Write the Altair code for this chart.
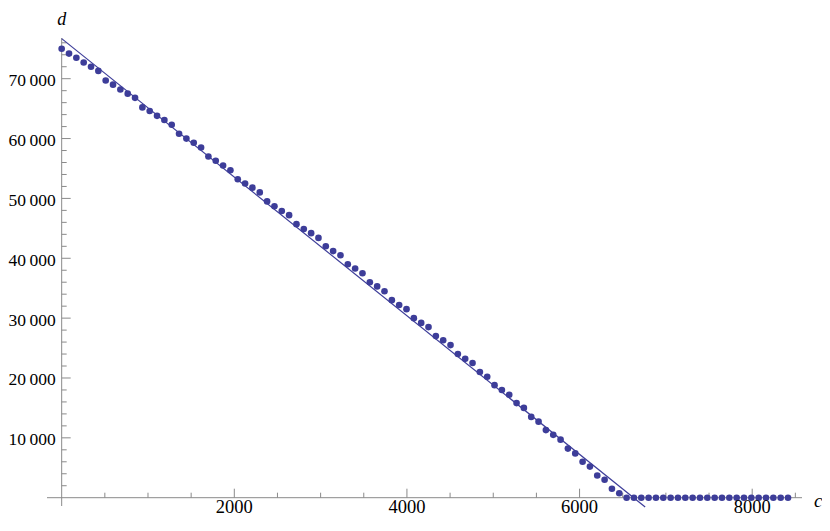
import altair as alt
import pandas as pd

# ---- data ----
c_vals = [0, 85, 170, 255, 340, 425, 510, 595, 680, 765,
          850, 935, 1020, 1105, 1190, 1275, 1360, 1445, 1530, 1615,
          1700, 1785, 1870, 1955, 2040, 2125, 2210, 2295, 2380, 2465,
          2550, 2635, 2720, 2805, 2890, 2975, 3060, 3145, 3230, 3315,
          3400, 3485, 3570, 3655, 3740, 3825, 3910, 3995, 4080, 4165,
          4250, 4335, 4420, 4505, 4590, 4675, 4760, 4845, 4930, 5015,
          5100, 5185, 5270, 5355, 5440, 5525, 5610, 5695, 5780, 5865,
          5950, 6035, 6120, 6205, 6290, 6375, 6460, 6545, 6630, 6715,
          6800, 6885, 6970, 7055, 7140, 7225, 7310, 7395, 7480, 7565,
          7650, 7735, 7820, 7905, 7990, 8075, 8160, 8245, 8330, 8415]
d_vals = [75000, 74200, 73500, 72700, 72000, 71300, 69700, 69000, 68200, 67500,
          66800, 65200, 64600, 63800, 63100, 62300, 60800, 60000, 59300, 58500,
          57000, 56300, 55500, 54700, 53200, 52500, 51800, 51000, 49500, 48700,
          47900, 47200, 45700, 44900, 44200, 43400, 42000, 41200, 40500, 39000,
          38300, 37500, 36000, 35300, 34500, 33000, 32200, 31500, 30000, 29200,
          28500, 27000, 26300, 25500, 24000, 23200, 22500, 21000, 20200, 18800,
          18000, 17200, 15800, 15000, 13500, 12700, 11300, 10500, 9700, 8200,
          7400, 6000, 5200, 3700, 3000, 1500, 750, 0, 0, 0,
          0, 0, 0, 0, 0, 0, 0, 0, 0, 0,
          0, 0, 0, 0, 0, 0, 0, 0, 0, 0]

fit_c = [0, 6760]
fit_d = [76700, -1550]

x_major = [2000, 4000, 6000, 8000]
x_major_labels = ["2000", "4000", "6000", "8000"]
x_minor = [500, 1000, 1500, 2500, 3000, 3500, 4500, 5000, 5500, 6500, 7000, 7500, 8500]
y_major = [10000, 20000, 30000, 40000, 50000, 60000, 70000]
y_major_labels = ["10\u2009000", "20\u2009000", "30\u2009000", "40\u2009000",
                  "50\u2009000", "60\u2009000", "70\u2009000"]
y_minor = [2000, 4000, 6000, 8000, 12000, 14000, 16000, 18000, 22000, 24000, 26000, 28000,
           32000, 34000, 36000, 38000, 42000, 44000, 46000, 48000, 52000, 54000, 56000, 58000,
           62000, 64000, 66000, 68000, 72000, 74000, 76000]

X_DOM = [-170, 8577]
Y_DOM = [-1387, 76800]
W, H = 755, 468
BLUE = "#3d3d99"
AXC = "#8a8a8a"
FONT = "Liberation Serif"

xs = alt.Scale(domain=X_DOM, nice=False, zero=False)
ys = alt.Scale(domain=Y_DOM, nice=False, zero=False)

# pixel lengths converted to data units via the plot scale
ux = (X_DOM[1] - X_DOM[0]) / W
uy = (Y_DOM[1] - Y_DOM[0]) / H

axes_df = pd.DataFrame({"x0": [X_DOM[0], 0], "x1": [X_DOM[1], 0],
                        "y0": [0, Y_DOM[0]], "y1": [0, Y_DOM[1]]})
xt_df = pd.DataFrame({"x": x_major + x_minor,
                      "y0": [0] * (len(x_major) + len(x_minor)),
                      "y1": [9 * uy] * len(x_major) + [5 * uy] * len(x_minor)})
yt_df = pd.DataFrame({"y": y_major + y_minor,
                      "x0": [0] * (len(y_major) + len(y_minor)),
                      "x1": [9 * ux] * len(y_major) + [5 * ux] * len(y_minor)})
pts_df = pd.DataFrame({"c": c_vals, "d": d_vals})
fit_df = pd.DataFrame({"c": fit_c, "d": fit_d})
xl_df = pd.DataFrame({"x": x_major, "y": [0] * len(x_major), "t": x_major_labels})
yl_df = pd.DataFrame({"y": y_major, "x": [0] * len(y_major), "t": y_major_labels})
d_df = pd.DataFrame({"x": [0], "y": [Y_DOM[1]], "t": ["d"]})
c_df = pd.DataFrame({"x": [X_DOM[1]], "y": [0], "t": ["c"]})

axes = alt.Chart(axes_df).mark_rule(color=AXC, strokeWidth=1).encode(
    x=alt.X("x0:Q", scale=xs, axis=None), x2="x1:Q",
    y=alt.Y("y0:Q", scale=ys, axis=None), y2="y1:Q")
xticks = alt.Chart(xt_df).mark_rule(color=AXC, strokeWidth=1).encode(
    x=alt.X("x:Q", scale=xs, axis=None),
    y=alt.Y("y0:Q", scale=ys, axis=None), y2="y1:Q")
yticks = alt.Chart(yt_df).mark_rule(color=AXC, strokeWidth=1).encode(
    y=alt.Y("y:Q", scale=ys, axis=None),
    x=alt.X("x0:Q", scale=xs, axis=None), x2="x1:Q")
fit = alt.Chart(fit_df).mark_line(color=BLUE, strokeWidth=1.2).encode(
    x=alt.X("c:Q", scale=xs, axis=None), y=alt.Y("d:Q", scale=ys, axis=None))
pts = alt.Chart(pts_df).mark_circle(color=BLUE, size=44, opacity=1).encode(
    x=alt.X("c:Q", scale=xs, axis=None), y=alt.Y("d:Q", scale=ys, axis=None))
xlabels = alt.Chart(xl_df).mark_text(font=FONT, fontSize=18.5, color="black",
                                     align="center", baseline="alphabetic", dy=15.5).encode(
    x=alt.X("x:Q", scale=xs, axis=None), y=alt.Y("y:Q", scale=ys, axis=None), text="t:N")
ylabels = alt.Chart(yl_df).mark_text(font=FONT, fontSize=17.5, color="black",
                                     align="right", baseline="alphabetic", dx=-6, dy=7.5).encode(
    y=alt.Y("y:Q", scale=ys, axis=None), x=alt.X("x:Q", scale=xs, axis=None), text="t:N")
dlab = alt.Chart(d_df).mark_text(
    font=FONT, fontSize=18, fontStyle="italic", color="black",
    align="center", baseline="alphabetic", dy=-13.5).encode(
    x=alt.X("x:Q", scale=xs, axis=None), y=alt.Y("y:Q", scale=ys, axis=None), text="t:N")
clab = alt.Chart(c_df).mark_text(
    font=FONT, fontSize=19, fontStyle="italic", color="black",
    align="left", baseline="alphabetic", dx=12, dy=9).encode(
    x=alt.X("x:Q", scale=xs, axis=None), y=alt.Y("y:Q", scale=ys, axis=None), text="t:N")

chart = alt.layer(axes, xticks, yticks, fit, pts, xlabels, ylabels, dlab, clab).properties(
    width=W, height=H,
    autosize=alt.AutoSizeParams(type="none"),
    padding={"left": 39, "top": 30, "right": 20, "bottom": 12},
).configure_view(strokeWidth=0)

chart.save("out.html", embed_options={"renderer": "svg", "actions": False})
